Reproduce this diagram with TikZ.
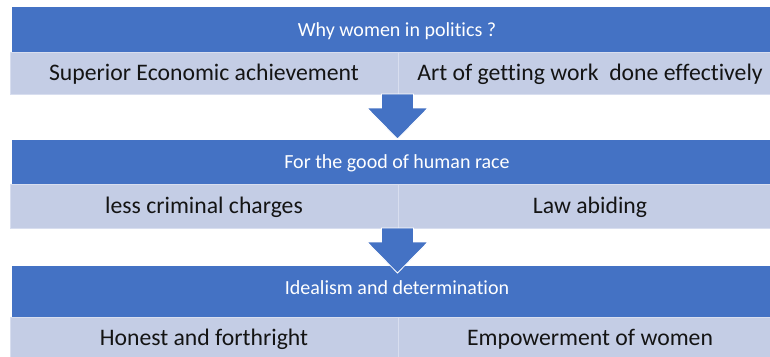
\documentclass[tikz,border=0pt]{standalone}
\usepackage{fontspec}
\setmainfont{Carlito}[Ligatures=NoCommon]
\definecolor{bandblue}{RGB}{68,114,196}
\definecolor{rowfill}{RGB}{196,205,229}
\definecolor{rowedge}{RGB}{216,222,239}
\definecolor{rowtext}{RGB}{20,20,20}
\begin{document}
\begin{tikzpicture}[x=1pt,y=-1pt,
  band/.style={fill=bandblue, text=white, inner sep=0pt, outer sep=0pt, anchor=north west,
    minimum width=770pt, minimum height=45pt, text height=13.2pt, text depth=0pt,
    font=\fontsize{20}{24}\selectfont},
  cell/.style={fill=rowfill, draw=rowedge, line width=1pt, text=rowtext, inner sep=0pt, outer sep=0pt,
    anchor=north west, minimum height=42pt, text height=15.6pt, text depth=0pt,
    font=\fontsize{23.7}{28}\selectfont},
  leftcell/.style={cell, minimum width=388pt},
  rightcell/.style={cell, minimum width=384pt},
  flow/.style={fill=bandblue, draw=white, line width=0.8pt, line join=miter}]
\useasboundingbox (0,0) rectangle (770,356);
\clip (0,0) rectangle (770,356);
\fill[white] (0,0) rectangle (770,356);

% level 1
\node[band] (b1) at (12,7) {Why women in politics ?};
\node[leftcell] (r1l) at (10,52) {Superior Economic achievement};
\node[rightcell] (r1r) at (398,52) {Art of getting work\ \ done effectively};

% level 2
\node[band, minimum height=44pt] (b2) at (12,140) {For the good of human race};
\node[leftcell, minimum height=44pt] (r2l) at (10,184) {less criminal charges};
\node[rightcell, minimum height=44pt] (r2r) at (398,184) {Law abiding};

% level 3
\node[band, minimum height=51pt, text depth=8.2pt] (b3) at (12,266) {Idealism and determination};
\node[leftcell] (r3l) at (10,317) {Honest and forthright};
\node[rightcell] (r3r) at (398,317) {Empowerment of women};

% arrows
\draw[flow] ([xshift=-16.5pt]r1l.south east) -- ++(32,0) -- ++(0,14) -- ++(14.5,0)
  -- ++(-30.5,31) -- ++(-30.5,-31) -- ++(14.5,0) -- cycle;
\draw[flow] ([xshift=-16.5pt]r2l.south east) -- ++(32,0) -- ++(0,14) -- ++(14.5,0)
  -- ++(-30.5,31) -- ++(-30.5,-31) -- ++(14.5,0) -- cycle;
\end{tikzpicture}
\end{document}
